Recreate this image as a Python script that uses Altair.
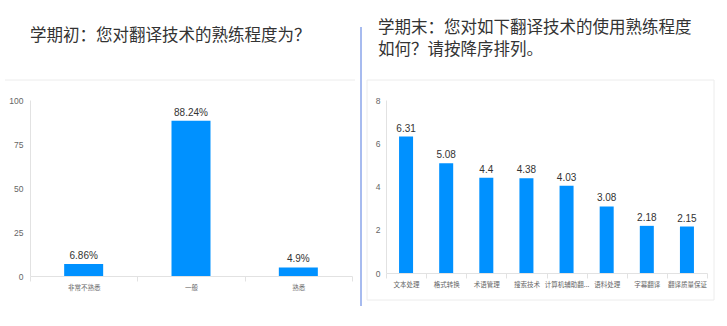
import altair as alt
import pandas as pd

# ---------------- data ----------------
left_categories = ["非常不熟悉", "一般", "熟悉"]
left_values = [6.86, 88.24, 4.9]
left_labels = ["6.86%", "88.24%", "4.9%"]
left_ticks = [0, 25, 50, 75, 100]

right_categories = ["文本处理", "格式转换", "术语管理", "搜索技术",
                    "计算机辅助翻译", "语料处理", "字幕翻译", "翻译质量保证"]
right_values = [6.31, 5.08, 4.4, 4.38, 4.03, 3.08, 2.18, 2.15]
right_labels = ["6.31", "5.08", "4.4", "4.38", "4.03", "3.08", "2.18", "2.15"]
right_ticks = [0, 2, 4, 6, 8]

title_left = "学期初：您对翻译技术的熟练程度为？"
title_right_1 = "学期末：您对如下翻译技术的使用熟练程度"
title_right_2 = "如何？请按降序排列。"

# ---------------- style ----------------
FONT = "Noto Sans CJK SC"
NUM_FONT = "Liberation Sans Narrow, Liberation Sans"
BLUE = "#0091ff"
AXIS_GRAY = "#e2e2e2"
LABEL_GRAY = "#666666"

left_df = pd.DataFrame({"cat": left_categories, "val": left_values, "lab": left_labels})
right_df = pd.DataFrame({"cat": right_categories, "val": right_values, "lab": right_labels})
one = alt.Data(values=[{"k": 1}])

W1, H1 = 322, 176
W2, H2 = 321, 173


def x_enc(cats):
    return alt.X("cat:N", sort=cats, title=None,
                 scale=alt.Scale(paddingInner=0, paddingOuter=0),
                 axis=alt.Axis(labelAngle=0, tickBand="extent", tickSize=5,
                               tickColor=AXIS_GRAY, domainColor=AXIS_GRAY,
                               labelColor=LABEL_GRAY, labelFontSize=6.5,
                               labelFont=FONT, labelPadding=3,
                               labelExpr="length(datum.label) > 6 ? substring(datum.label, 0, 6) + '...' : datum.label"))


def y_enc(domain, ticks, pad):
    return alt.Y("val:Q", title=None, scale=alt.Scale(domain=domain, nice=False),
                 axis=alt.Axis(values=ticks, ticks=False, grid=False,
                               domainColor=AXIS_GRAY, labelColor=LABEL_GRAY,
                               labelFontSize=8.5, labelFont=NUM_FONT,
                               labelPadding=pad))


# ---------------- left panel ----------------
xL = x_enc(left_categories)
yL = y_enc([0, 100], left_ticks, 7)
left_bars = alt.Chart(left_df).mark_bar(size=39, color=BLUE).encode(x=xL, y=yL)
left_text = alt.Chart(left_df).mark_text(dy=-8, fontSize=10, color="#333333",
                                         font=NUM_FONT).encode(
    x=xL, y=yL, text="lab:N")
left_bg = alt.Chart(one).mark_rect(opacity=0).encode(
    x=alt.value(-30), x2=alt.value(333), y=alt.value(-100), y2=alt.value(226))
left_top_line = alt.Chart(one).mark_rule(color="#ececec", strokeWidth=1).encode(
    x=alt.value(-25), x2=alt.value(325), y=alt.value(-20))
separator = alt.Chart(one).mark_rule(color="#8aa4ea", strokeWidth=1.5).encode(
    x=alt.value(331), y=alt.value(-73), y2=alt.value(206))
left_title = alt.Chart(one).mark_text(align="left", baseline="middle", fontSize=16.5,
                                      font=FONT, color="#333333").encode(
    x=alt.value(0), y=alt.value(-64), text=alt.value(title_left))

left = alt.layer(left_bg, left_top_line, separator, left_title, left_bars, left_text).properties(
    width=W1, height=H1)

# ---------------- right panel ----------------
xR = x_enc(right_categories)
yR = y_enc([0, 8], right_ticks, 6)
right_bars = alt.Chart(right_df).mark_bar(size=14, color=BLUE).encode(x=xR, y=yR)
right_text = alt.Chart(right_df).mark_text(dy=-8, fontSize=10, color="#333333",
                                           font=NUM_FONT).encode(
    x=xR, y=yR, text="lab:N")
right_bg = alt.Chart(one).mark_rect(opacity=0).encode(
    x=alt.value(-23), x2=alt.value(341), y=alt.value(-100), y2=alt.value(226))
right_box = alt.Chart(one).mark_rect(fillOpacity=0, stroke="#ececec", strokeWidth=1).encode(
    x=alt.value(-19), x2=alt.value(328), y=alt.value(-20), y2=alt.value(200))
right_title1 = alt.Chart(one).mark_text(align="left", baseline="middle", fontSize=16.5,
                                        font=FONT, color="#333333").encode(
    x=alt.value(-8), y=alt.value(-72), text=alt.value(title_right_1))
right_title2 = alt.Chart(one).mark_text(align="left", baseline="middle", fontSize=16.5,
                                        font=FONT, color="#333333").encode(
    x=alt.value(-8), y=alt.value(-50), text=alt.value(title_right_2))

right = alt.layer(right_bg, right_box, right_title1, right_title2, right_bars, right_text).properties(
    width=W2, height=H2)

chart = alt.hconcat(left, right, spacing=0).properties(
    padding=0, background="white").configure_view(strokeWidth=0)

chart.save("out.html", embed_options={"renderer": "svg", "actions": False})
